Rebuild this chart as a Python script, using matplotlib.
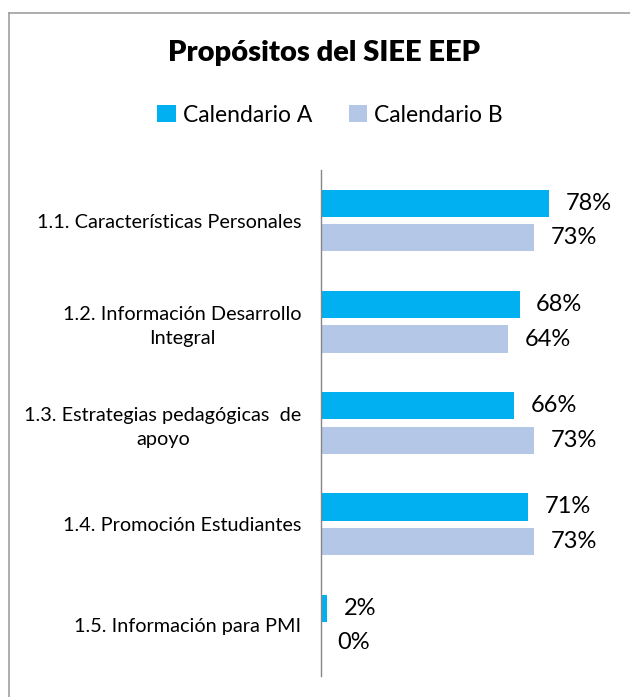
import matplotlib.pyplot as plt
from matplotlib.lines import Line2D
import numpy as np

plt.rcParams['font.family'] = ['Lato', 'DejaVu Sans']

categories = [
    "1.1. Características Personales",
    "1.2. Información Desarrollo\nIntegral",
    "1.3. Estrategias pedagógicas  de\napoyo",
    "1.4. Promoción Estudiantes",
    "1.5. Información para PMI",
]
cal_a = [78, 68, 66, 71, 2]
cal_b = [73, 64, 73, 73, 0]
series_names = ["Calendario A", "Calendario B"]
colors = ["#00B0F0", "#B4C7E7"]

W, H = 630, 697
fig = plt.figure(figsize=(W / 100, H / 100), dpi=100)

# plot area placed by pixel coords
left, right, top, bottom = 321, 598, 170, 676
ax = fig.add_axes([left / W, 1 - bottom / H, (right - left) / W, (bottom - top) / H])

y = np.arange(len(categories))
h = 0.27
off = 0.17
bars_a = ax.barh(y - off, cal_a, height=h, color=colors[0], label=series_names[0])
bars_b = ax.barh(y + off, cal_b, height=h, color=colors[1], label=series_names[1])

xmax = (right - left) / 2.92
ax.set_xlim(0, xmax)
ax.set_ylim(len(categories) - 0.5, -0.5)

for bars, vals in [(bars_a, cal_a), (bars_b, cal_b)]:
    for b, v in zip(bars, vals):
        ax.annotate(f"{v}%", (v, b.get_y() + b.get_height() / 2),
                    xytext=(12, 0), textcoords="offset points",
                    va="center", ha="left", fontsize=17, color="#000000")

ax.set_yticks(y)
ax.set_yticklabels(categories, fontsize=14.3, linespacing=1.45)
for lbl in ax.get_yticklabels():
    lbl.set_multialignment("center")
ax.tick_params(axis="y", length=0, pad=14)
ax.set_xticks([])
for s in ["top", "right", "bottom"]:
    ax.spines[s].set_visible(False)
ax.spines["left"].set_color("#868686")
ax.spines["left"].set_linewidth(1)

fig.text(324 / W, 1 - 53 / H, "Propósitos del SIEE EEP", ha="center", va="center",
         fontsize=21, fontweight="heavy")

fig.legend(handles=[bars_a, bars_b], labels=series_names, loc="center",
           bbox_to_anchor=(330 / W, 1 - 115 / H), ncol=2, frameon=False,
           fontsize=16.5, handlelength=0.8, handleheight=0.8, handletextpad=0.3,
           columnspacing=1.6)

# chart frame (left and top edges visible in the crop)
fig.add_artist(Line2D([9 / W, 9 / W], [0, 1 - 12.5 / H], color="#A0A0A0", lw=1.2))
fig.add_artist(Line2D([9 / W, 1], [1 - 12.5 / H, 1 - 12.5 / H], color="#A0A0A0", lw=1.2))

fig.savefig("out.png", dpi=100)
